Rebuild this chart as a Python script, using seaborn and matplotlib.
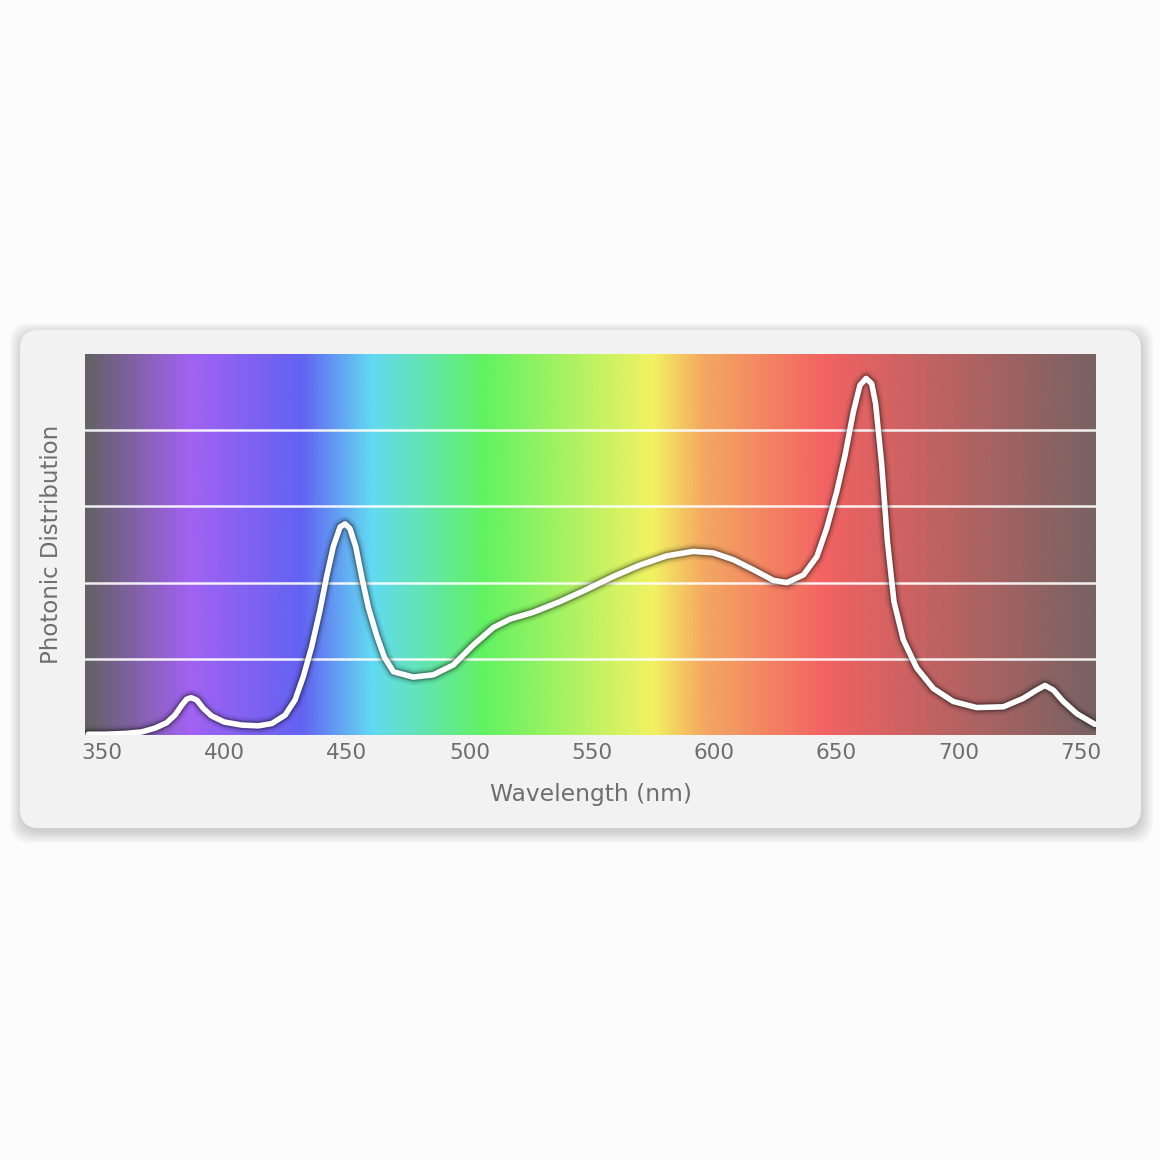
import numpy as np
import pandas as pd
import matplotlib
matplotlib.use("Agg")
import matplotlib.pyplot as plt
from matplotlib.colors import LinearSegmentedColormap
from matplotlib.patches import FancyBboxPatch
import seaborn as sns

# ── Data ───────────────────────────────────────────────────────
wavelength_nm = [344.3, 351.1, 359.3, 366.1, 371.6, 376.3, 379.7, 382.5, 384.5, 386.3,
                 388.6, 391.3, 394.7, 399.9, 407.0, 413.8, 419.3, 424.7, 428.8, 432.2,
                 435.6, 439.0, 441.7, 444.4, 447.2, 449.2, 451.2, 453.6, 456.0, 458.7,
                 462.2, 465.3, 469.0, 477.1, 485.3, 493.5, 501.6, 509.8, 516.6, 526.1,
                 537.0, 547.9, 558.8, 569.7, 580.6, 591.5, 599.7, 607.9, 616.0, 624.2,
                 629.7, 636.5, 642.0, 646.0, 650.1, 653.5, 656.9, 659.6, 662.1, 664.4,
                 666.0, 668.5, 670.8, 673.5, 677.3, 682.8, 689.6, 697.7, 707.3, 718.2,
                 726.3, 731.8, 735.2, 738.6, 742.7, 748.2, 755.6]
photon_dist = [0.01, 0.01, 0.02, 0.04, 0.09, 0.16, 0.26, 0.39, 0.47, 0.49,
               0.46, 0.35, 0.25, 0.17, 0.13, 0.12, 0.15, 0.26, 0.46, 0.77,
               1.16, 1.64, 2.08, 2.47, 2.73, 2.77, 2.71, 2.47, 2.08, 1.68,
               1.30, 1.02, 0.83, 0.76, 0.79, 0.92, 1.18, 1.41, 1.52, 1.61,
               1.75, 1.91, 2.08, 2.23, 2.35, 2.41, 2.39, 2.30, 2.17, 2.03,
               2.00, 2.10, 2.34, 2.71, 3.19, 3.67, 4.24, 4.59, 4.68, 4.61,
               4.35, 3.55, 2.55, 1.75, 1.25, 0.88, 0.61, 0.44, 0.36, 0.37,
               0.48, 0.59, 0.65, 0.59, 0.44, 0.28, 0.14]

x_ticks = [350, 400, 450, 500, 550, 600, 650, 700, 750]
grid_levels = [1, 2, 3, 4]

# spectrum background stops (wavelength -> colour)
spectrum_nm = [343.0, 385.0, 431.0, 460.0, 506.0, 575.0, 596.0, 646.0, 756.0]
spectrum_colors = ["#646064", "#a262f2", "#6262f2", "#62daf2", "#62f262",
                   "#f2f262", "#f4a862", "#f26262", "#786262"]

XMIN, XMAX = 342.97, 756.05
YMIN, YMAX = 0, 5

df = pd.DataFrame({"nm": wavelength_nm, "val": photon_dist})

# ── Figure / panel ─────────────────────────────────────────────
sns.set_theme(style="white")
plt.rcParams["font.family"] = ["DejaVu Sans"]

fig = plt.figure(figsize=(11.6, 11.6), dpi=100)
fig.patch.set_facecolor("#fcfcfc")

W = H = 1160.0
px, py, pw, ph = 20, 330, 1121, 498  # panel in pixels (top-left origin)

# soft drop shadow, shifted down
for i in range(9):
    grow = 1.4 * i
    sh = FancyBboxPatch(((px + 1 - grow) / W, (H - py - ph - 4 - grow) / H),
                        (pw + 2 * grow) / W, (ph + 2 * grow) / H,
                        boxstyle="round,pad=0,rounding_size=0.017",
                        transform=fig.transFigure, facecolor="black",
                        edgecolor="none", alpha=0.018, zorder=0)
    fig.patches.append(sh)

panel = FancyBboxPatch((px / W, (H - py - ph) / H), pw / W, ph / H,
                       boxstyle="round,pad=0,rounding_size=0.016",
                       transform=fig.transFigure, facecolor="#f2f2f2",
                       edgecolor="none", zorder=1)
fig.patches.append(panel)

ax = fig.add_axes([85 / W, (H - 735) / H, 1011 / W, 381 / H])
ax.set_zorder(2)

# spectrum gradient
stops = [(nm - XMIN) / (XMAX - XMIN) for nm in spectrum_nm]
stops[0], stops[-1] = 0.0, 1.0
cmap = LinearSegmentedColormap.from_list("spec", list(zip(stops, spectrum_colors)))
grad = np.linspace(0, 1, 1024).reshape(1, -1)
ax.imshow(grad, cmap=cmap, aspect="auto", extent=[XMIN, XMAX, YMIN, YMAX],
          interpolation="bilinear", zorder=0)

for lv in grid_levels:
    ax.axhline(lv, color="white", lw=1.8, alpha=0.9, zorder=1)

# curve shadow then curve
for lw, a in [(12, 0.05), (9.5, 0.07), (7.5, 0.12), (6, 0.2)]:
    sns.lineplot(data=df, x="nm", y="val", ax=ax, color="black", lw=lw,
                 alpha=a, sort=False, solid_capstyle="round",
                 solid_joinstyle="round", zorder=2)
sns.lineplot(data=df, x="nm", y="val", ax=ax, color="white", lw=4.0,
             sort=False, solid_capstyle="round", solid_joinstyle="round", zorder=3)

ax.set_xlim(XMIN, XMAX)
ax.set_ylim(YMIN, YMAX)
ax.set_xticks(x_ticks)
ax.set_xticklabels([str(t) for t in x_ticks])
ax.set_yticks([])
ax.tick_params(axis="x", length=0, pad=6, labelsize=15.5, labelcolor="#6e6e6e")
for s in ax.spines.values():
    s.set_visible(False)

ax.set_xlabel("Wavelength (nm)", fontsize=16.8, color="#6e6e6e", labelpad=14)
ax.set_ylabel("Photonic Distribution", fontsize=16.5, color="#6e6e6e", labelpad=16)

fig.savefig("out.png", dpi=100, facecolor=fig.get_facecolor())
